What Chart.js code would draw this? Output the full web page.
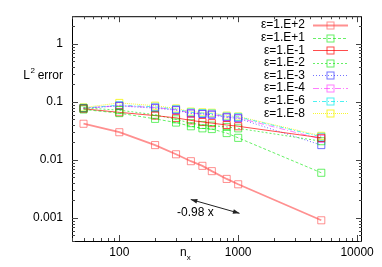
<!DOCTYPE html>
<html>
<head>
<meta charset="utf-8">
<script src="https://cdn.jsdelivr.net/npm/chart.js@4"></script>
<style>
  html, body { margin: 0; padding: 0; background: #fff; }
  #wrap { width: 382px; height: 267px; }
</style>
</head>
<body>
<div id="wrap"><canvas id="err-chart"></canvas></div>
<script>
/* ---------- data ---------- */
const nx = [50, 100, 200, 300, 400, 500, 600, 800, 1000, 5000];
const errEp2 = [0.042, 0.030, 0.018, 0.0125, 0.0095, 0.0079, 0.0064, 0.0047, 0.0038, 0.00091];
const errEp1 = [0.074, 0.064, 0.051, 0.044, 0.038, 0.035, 0.034, 0.029, 0.024, 0.006];
const errEm1 = [0.076, 0.066, 0.058, 0.053, 0.048, 0.045, 0.043, 0.040, 0.038, 0.024];
const errEm2 = [0.079, 0.072, 0.060, 0.050, 0.043, 0.040, 0.039, 0.037, 0.035, 0.021];
const errEm3 = [0.078, 0.085, 0.078, 0.072, 0.063, 0.062, 0.060, 0.054, 0.052, 0.018];
const errEm4 = [0.078, 0.086, 0.080, 0.073, 0.064, 0.062, 0.061, 0.055, 0.053, 0.023];
const errEm6 = [0.078, 0.088, 0.082, 0.075, 0.066, 0.064, 0.063, 0.056, 0.055, 0.025];
const errEm8 = [0.080, 0.096, 0.086, 0.077, 0.068, 0.066, 0.065, 0.058, 0.056, 0.026];
const seriesLabels = ["ε=1.E+2", "ε=1.E+1", "ε=1.E-1", "ε=1.E-2", "ε=1.E-3", "ε=1.E-4", "ε=1.E-6", "ε=1.E-8"];
const xTickVals = [100, 1000, 10000];
const yTickVals = [0.001, 0.01, 0.1, 1];
const slopeLine = { x: [399, 1026], y: [0.00208, 0.00120] };
const slopeText = "-0.98 x";

/* ---------- styles ---------- */
const FONT = '"Liberation Sans", Arial, sans-serif';
const styles = [
  { color: "rgba(255,70,70,0.6)", width: 1.8, dash: [] },
  { color: "rgba(0,230,0,0.6)", width: 1, dash: [3, 2] },
  { color: "rgba(255,0,0,0.7)", width: 1, dash: [] },
  { color: "rgba(0,230,0,0.6)", width: 1, dash: [2, 2] },
  { color: "rgba(40,40,255,0.65)", width: 1, dash: [1, 2] },
  { color: "rgba(255,40,255,0.6)", width: 1, dash: [6, 2, 1, 2] },
  { color: "rgba(0,235,235,0.7)", width: 1, dash: [4, 2, 1, 2] },
  { color: "rgba(245,245,0,0.8)", width: 1, dash: [1, 1] },
];
const allSeries = [errEp2, errEp1, errEm1, errEm2, errEm3, errEm4, errEm6, errEm8];

const datasets = allSeries.map((vals, i) => ({
  label: seriesLabels[i],
  data: nx.map((x, k) => ({ x: x, y: vals[k] })),
  borderColor: styles[i].color,
  borderWidth: styles[i].width,
  borderDash: styles[i].dash,
  pointStyle: "rect",
  pointRadius: 5,
  pointBorderWidth: 1,
  pointBorderColor: styles[i].color,
  pointBackgroundColor: "rgba(0,0,0,0)",
  tension: 0,
  fill: false,
}));

/* ---------- helpers ---------- */
function minorTicks(min, max) {
  const out = [];
  for (let e = Math.floor(Math.log10(min)); e <= Math.ceil(Math.log10(max)); e++) {
    for (let m = 1; m < 10; m++) {
      const v = m * Math.pow(10, e);
      if (v >= min && v <= max) out.push({ v: v, major: m === 1 });
    }
  }
  return out;
}

const framePlugin = {
  id: "frame",
  afterDraw(chart) {
    const ctx = chart.ctx;
    const a = chart.chartArea;
    const xs = chart.scales.x, ys = chart.scales.y;
    ctx.save();
    ctx.strokeStyle = "#000";
    ctx.lineWidth = 1;
    ctx.setLineDash([]);
    ctx.strokeRect(a.left + 0.5, a.top + 0.5, a.right - a.left - 1, a.bottom - a.top);

    // inward ticks, mirrored
    ctx.strokeStyle = "#444";
    minorTicks(xs.min, xs.max).forEach(t => {
      const p = Math.round(xs.getPixelForValue(t.v)) + 0.5;
      const len = t.major ? 6 : 3;
      ctx.beginPath();
      ctx.moveTo(p, a.bottom); ctx.lineTo(p, a.bottom - len);
      ctx.moveTo(p, a.top); ctx.lineTo(p, a.top + len);
      ctx.stroke();
    });
    minorTicks(ys.min, ys.max).forEach(t => {
      const p = Math.round(ys.getPixelForValue(t.v)) + 0.5;
      const len = t.major ? 6 : 3;
      ctx.beginPath();
      ctx.moveTo(a.left, p); ctx.lineTo(a.left + len, p);
      ctx.moveTo(a.right, p); ctx.lineTo(a.right - len, p);
      ctx.stroke();
    });

    // y title  L^2 error
    ctx.fillStyle = "#000";
    ctx.textBaseline = "middle";
    ctx.font = "12px " + FONT;
    const errW = ctx.measureText(" error").width;
    const lW = ctx.measureText("L").width;
    ctx.font = "8px " + FONT;
    const supW = ctx.measureText("2").width;
    let tx = 63 - errW - supW - lW;
    ctx.font = "12px " + FONT;
    ctx.textAlign = "left";
    ctx.fillText("L", tx, 76);
    ctx.font = "8px " + FONT;
    ctx.fillText("2", tx + lW + 0.5, 71);
    ctx.font = "12px " + FONT;
    ctx.fillText(" error", tx + lW + supW, 76);

    // x title n_x
    ctx.fillText("n", 180, 253);
    const nW = ctx.measureText("n").width;
    ctx.font = "8px " + FONT;
    ctx.fillText("x", 180 + nW, 258);

    // legend
    ctx.font = "12px " + FONT;
    ctx.textAlign = "right";
    datasets.forEach((ds, i) => {
      const y = 25 + i * 12.6;
      ctx.fillStyle = "#000";
      ctx.fillText(ds.label, 305, y);
      ctx.strokeStyle = styles[i].color;
      ctx.lineWidth = styles[i].width;
      ctx.setLineDash(styles[i].dash);
      ctx.beginPath();
      ctx.moveTo(313, Math.round(y) + 0.5); ctx.lineTo(348, Math.round(y) + 0.5);
      ctx.stroke();
      ctx.setLineDash([]);
      ctx.lineWidth = 1;
      ctx.strokeRect(327, Math.round(y) - 3, 7, 7);
    });

    // slope arrow
    const x1 = xs.getPixelForValue(slopeLine.x[0]), y1 = ys.getPixelForValue(slopeLine.y[0]);
    const x2 = xs.getPixelForValue(slopeLine.x[1]), y2 = ys.getPixelForValue(slopeLine.y[1]);
    ctx.strokeStyle = "#222";
    ctx.fillStyle = "#222";
    ctx.lineWidth = 1;
    ctx.beginPath(); ctx.moveTo(x1, y1); ctx.lineTo(x2, y2); ctx.stroke();
    const ang = Math.atan2(y2 - y1, x2 - x1);
    [[x1, y1, ang + Math.PI], [x2, y2, ang]].forEach(([hx, hy, a2]) => {
      ctx.beginPath();
      ctx.moveTo(hx, hy);
      ctx.lineTo(hx - 7 * Math.cos(a2 - 0.35), hy - 7 * Math.sin(a2 - 0.35));
      ctx.lineTo(hx - 7 * Math.cos(a2 + 0.35), hy - 7 * Math.sin(a2 + 0.35));
      ctx.closePath();
      ctx.fill();
    });
    ctx.fillStyle = "#000";
    ctx.textAlign = "left";
    ctx.font = "12px " + FONT;
    ctx.fillText(slopeText, 177, 213);
    ctx.restore();
  },
};

/* ---------- chart ---------- */
const errChart = new Chart(document.querySelector("#err-chart"), {
  type: "line",
  data: { datasets: datasets },
  options: {
    responsive: true,
    maintainAspectRatio: false,
    animation: false,
    layout: { padding: { top: 15, right: 20, left: 0, bottom: 0 } },
    plugins: { legend: { display: false }, tooltip: { enabled: false } },
    scales: {
      x: {
        type: "logarithmic",
        min: 40,
        max: 11000,
        grid: { display: false, drawTicks: false },
        border: { display: false },
        afterBuildTicks: (s) => { s.ticks = xTickVals.map(v => ({ value: v })); },
        afterFit: (s) => { s.height = 26; },
        ticks: {
          padding: 4,
          maxRotation: 0,
          autoSkip: false,
          color: "#000",
          font: { family: FONT, size: 12 },
          callback: (v) => String(v),
        },
      },
      y: {
        type: "logarithmic",
        min: 0.0004,
        max: 3,
        grid: { display: false, drawTicks: false },
        border: { display: false },
        afterBuildTicks: (s) => { s.ticks = yTickVals.map(v => ({ value: v })); },
        afterFit: (s) => { s.width = 72; },
        ticks: {
          padding: 9,
          autoSkip: false,
          color: "#000",
          font: { family: FONT, size: 12 },
          callback: (v) => String(v),
        },
      },
    },
  },
  plugins: [framePlugin],
});
</script>
</body>
</html>
